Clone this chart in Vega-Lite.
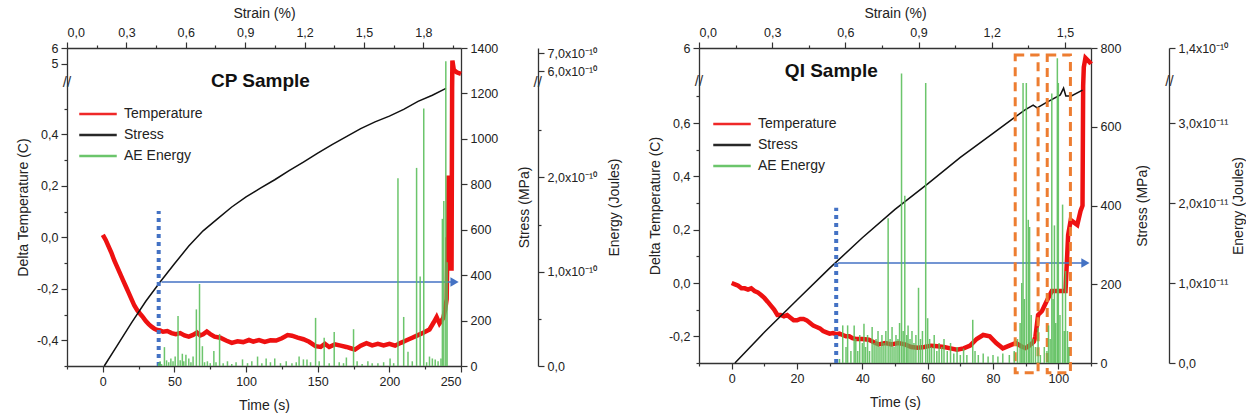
{
"$schema": "https://vega.github.io/schema/vega-lite/v6.json",
"padding": {"left": 16, "top": 6, "right": 0, "bottom": 0},
"spacing": 26,
"config": {
  "font": "Liberation Sans",
  "view": {"stroke": null},
  "axis": {"grid": false, "labelOverlap": false, "domainColor": "#333", "tickColor": "#333", "labelColor": "#222", "titleColor": "#222", "labelFontSize": 12.5, "titleFontSize": 14, "titleFontWeight": "normal", "labelFont": "Liberation Sans", "titleFont": "Liberation Sans", "domainWidth": 1.3, "tickWidth": 1.2, "labelPadding": 3, "titlePadding": 6}
},
"resolve": {"scale": {"color": "independent"}, "legend": {"color": "independent"}},
"datasets": {
  "cpTemp": [
    {"t":0,"v":0.01},{"t":2,"v":-0.01},{"t":4,"v":-0.035},{"t":6,"v":-0.06},{"t":8,"v":-0.09},{"t":10,"v":-0.115},{"t":12,"v":-0.14},{"t":14,"v":-0.165},{"t":16,"v":-0.19},{"t":18,"v":-0.215},{"t":20,"v":-0.24},{"t":22,"v":-0.265},{"t":24,"v":-0.283},{"t":26,"v":-0.297},{"t":28,"v":-0.31},{"t":30,"v":-0.325},{"t":32,"v":-0.337},{"t":34,"v":-0.347},{"t":36,"v":-0.355},{"t":38,"v":-0.36},{"t":40,"v":-0.362},{"t":42,"v":-0.367},{"t":45,"v":-0.364},{"t":48,"v":-0.372},{"t":51,"v":-0.376},{"t":54,"v":-0.372},{"t":57,"v":-0.381},{"t":60,"v":-0.386},{"t":63,"v":-0.379},{"t":65.7,"v":-0.37},{"t":68,"v":-0.381},{"t":70,"v":-0.377},{"t":72.6,"v":-0.366},{"t":75,"v":-0.376},{"t":78,"v":-0.386},{"t":82,"v":-0.39},{"t":86,"v":-0.401},{"t":90,"v":-0.41},{"t":94,"v":-0.404},{"t":98,"v":-0.407},{"t":102,"v":-0.399},{"t":105,"v":-0.405},{"t":109,"v":-0.399},{"t":113,"v":-0.406},{"t":117,"v":-0.4},{"t":121,"v":-0.401},{"t":125,"v":-0.392},{"t":129,"v":-0.38},{"t":132,"v":-0.382},{"t":136,"v":-0.39},{"t":140,"v":-0.396},{"t":144,"v":-0.406},{"t":148.5,"v":-0.423},{"t":152,"v":-0.426},{"t":155,"v":-0.414},{"t":158,"v":-0.426},{"t":162,"v":-0.416},{"t":166,"v":-0.421},{"t":170,"v":-0.426},{"t":173,"v":-0.431},{"t":176,"v":-0.436},{"t":180,"v":-0.421},{"t":184,"v":-0.411},{"t":188,"v":-0.42},{"t":192,"v":-0.414},{"t":196,"v":-0.42},{"t":200,"v":-0.414},{"t":204,"v":-0.421},{"t":208,"v":-0.41},{"t":212,"v":-0.4},{"t":216,"v":-0.39},{"t":220,"v":-0.38},{"t":224,"v":-0.37},{"t":228,"v":-0.358},{"t":231,"v":-0.33},{"t":233,"v":-0.31},{"t":235,"v":-0.335},{"t":237.5,"v":-0.315},{"t":239,"v":-0.28},{"t":240,"v":-0.24},{"t":240.6,"v":0.0},{"t":241,"v":-0.1},{"t":241.4,"v":0.24},{"t":241.8,"v":-0.12},{"t":242.2,"v":0.22},{"t":242.6,"v":-0.1},{"t":243,"v":0.2},{"t":243.4,"v":-0.13},{"t":243.8,"v":0.58},{"t":244,"v":5.2},{"t":245,"v":4.6},{"t":247,"v":4.45},{"t":250,"v":4.35}
  ],
  "cpStress": [
    {"t":1,"s":0},{"t":10,"s":90},{"t":20,"s":190},{"t":30,"s":285},{"t":40,"s":370},{"t":50,"s":450},{"t":60,"s":528},{"t":70,"s":595},{"t":80,"s":648},{"t":90,"s":700},{"t":100,"s":745},{"t":110,"s":783},{"t":120,"s":820},{"t":130,"s":860},{"t":140,"s":898},{"t":150,"s":937},{"t":160,"s":975},{"t":170,"s":1010},{"t":180,"s":1045},{"t":190,"s":1075},{"t":200,"s":1100},{"t":210,"s":1130},{"t":220,"s":1165},{"t":230,"s":1192},{"t":239.5,"s":1222}
  ],
  "cpAE": [
    {"t":39,"e":0.03e-10},{"t":40,"e":0.05e-10},{"t":41,"e":0.02e-10},{"t":43,"e":0.2e-10},{"t":44.5,"e":0.06e-10},{"t":46,"e":0.04e-10},{"t":47.5,"e":0.08e-10},{"t":49,"e":0.05e-10},{"t":50.5,"e":0.1e-10},{"t":52.5,"e":0.53e-10},{"t":54,"e":0.06e-10},{"t":55.5,"e":0.13e-10},{"t":56.5,"e":0.05e-10},{"t":58,"e":0.12e-10},{"t":60,"e":0.08e-10},{"t":61.5,"e":0.04e-10},{"t":63,"e":0.1e-10},{"t":65.3,"e":0.6e-10},{"t":67.5,"e":0.87e-10},{"t":69.5,"e":0.21e-10},{"t":71,"e":0.04e-10},{"t":73,"e":0.05e-10},{"t":75,"e":0.03e-10},{"t":77.5,"e":0.16e-10},{"t":79,"e":0.04e-10},{"t":81.5,"e":0.34e-10},{"t":84,"e":0.03e-10},{"t":87,"e":0.05e-10},{"t":90,"e":0.02e-10},{"t":93,"e":0.04e-10},{"t":97.5,"e":0.07e-10},{"t":101,"e":0.03e-10},{"t":104,"e":0.05e-10},{"t":108,"e":0.1e-10},{"t":111,"e":0.03e-10},{"t":114,"e":0.08e-10},{"t":117,"e":0.04e-10},{"t":120,"e":0.08e-10},{"t":124,"e":0.03e-10},{"t":128,"e":0.05e-10},{"t":132,"e":0.03e-10},{"t":135,"e":0.04e-10},{"t":137,"e":0.1e-10},{"t":140,"e":0.07e-10},{"t":142.5,"e":0.07e-10},{"t":145,"e":0.04e-10},{"t":148.5,"e":0.51e-10},{"t":151,"e":0.05e-10},{"t":154.5,"e":0.3e-10},{"t":158,"e":0.03e-10},{"t":161.5,"e":0.36e-10},{"t":165,"e":0.04e-10},{"t":168,"e":0.03e-10},{"t":170,"e":0.09e-10},{"t":175,"e":0.39e-10},{"t":177.5,"e":0.05e-10},{"t":181,"e":0.02e-10},{"t":185,"e":0.05e-10},{"t":188,"e":0.03e-10},{"t":192,"e":0.03e-10},{"t":196,"e":0.04e-10},{"t":200.5,"e":0.08e-10},{"t":203,"e":0.03e-10},{"t":206,"e":1.99e-10},{"t":210,"e":0.52e-10},{"t":213,"e":0.15e-10},{"t":216,"e":0.05e-10},{"t":219,"e":2.1e-10},{"t":221.5,"e":0.95e-10},{"t":224,"e":2.73e-10},{"t":226,"e":0.04e-10},{"t":228,"e":0.1e-10},{"t":230,"e":0.08e-10},{"t":232,"e":0.07e-10},{"t":234,"e":0.05e-10},{"t":236,"e":0.08e-10},{"t":237,"e":1.56e-10},{"t":238,"e":1.75e-10},{"t":239.4,"e":6.55e-10},{"t":240.3,"e":1.1e-10}
  ],
  "qiTemp": [
    {"t":0,"v":0.0},{"t":1,"v":-0.005},{"t":2,"v":-0.01},{"t":3,"v":-0.02},{"t":4,"v":-0.02},{"t":5,"v":-0.025},{"t":6,"v":-0.02},{"t":7,"v":-0.03},{"t":8,"v":-0.035},{"t":9,"v":-0.045},{"t":10,"v":-0.056},{"t":11,"v":-0.07},{"t":12,"v":-0.085},{"t":13,"v":-0.1},{"t":14,"v":-0.12},{"t":15,"v":-0.12},{"t":16,"v":-0.125},{"t":17,"v":-0.12},{"t":18,"v":-0.13},{"t":19,"v":-0.14},{"t":20,"v":-0.14},{"t":21,"v":-0.135},{"t":22,"v":-0.135},{"t":23,"v":-0.14},{"t":24,"v":-0.15},{"t":25,"v":-0.16},{"t":26,"v":-0.165},{"t":27,"v":-0.17},{"t":28,"v":-0.18},{"t":29,"v":-0.185},{"t":30,"v":-0.19},{"t":31,"v":-0.188},{"t":32,"v":-0.192},{"t":33,"v":-0.19},{"t":34,"v":-0.195},{"t":35,"v":-0.2},{"t":36,"v":-0.2},{"t":37,"v":-0.207},{"t":38,"v":-0.21},{"t":40,"v":-0.21},{"t":42,"v":-0.213},{"t":44,"v":-0.225},{"t":45,"v":-0.23},{"t":47,"v":-0.225},{"t":49,"v":-0.23},{"t":51,"v":-0.225},{"t":53,"v":-0.23},{"t":55,"v":-0.24},{"t":57,"v":-0.243},{"t":59,"v":-0.24},{"t":61,"v":-0.235},{"t":63,"v":-0.237},{"t":65,"v":-0.24},{"t":67,"v":-0.245},{"t":69,"v":-0.25},{"t":71,"v":-0.245},{"t":73,"v":-0.235},{"t":75,"v":-0.21},{"t":77,"v":-0.195},{"t":79,"v":-0.2},{"t":81,"v":-0.225},{"t":83,"v":-0.245},{"t":85,"v":-0.235},{"t":87,"v":-0.225},{"t":89,"v":-0.24},{"t":90,"v":-0.244},{"t":91,"v":-0.236},{"t":92.5,"v":-0.22},{"t":93,"v":-0.2},{"t":93.8,"v":-0.12},{"t":95,"v":-0.105},{"t":96.6,"v":-0.064},{"t":98,"v":-0.03},{"t":100,"v":-0.03},{"t":102.2,"v":-0.03},{"t":103,"v":0.18},{"t":103.8,"v":0.236},{"t":105.8,"v":0.218},{"t":106.8,"v":0.27},{"t":107.4,"v":0.29},{"t":107.6,"v":0.74},{"t":107.8,"v":5.4},{"t":108.3,"v":5.69},{"t":109.8,"v":5.53},{"t":110,"v":5.5}
  ],
  "qiStress": [
    {"t":1,"s":0},{"t":10,"s":78},{"t":20,"s":160},{"t":30,"s":241},{"t":40,"s":318},{"t":50,"s":390},{"t":60,"s":455},{"t":70,"s":522},{"t":80,"s":583},{"t":86,"s":620},{"t":89.8,"s":643},{"t":92.3,"s":655},{"t":93.5,"s":648},{"t":96,"s":660},{"t":100.6,"s":681},{"t":101.6,"s":698},{"t":102.3,"s":678},{"t":104,"s":678},{"t":107.4,"s":693}
  ],
  "qiAE": [
    {"t":33,"e":0.05e-11},{"t":34,"e":0.47e-11},{"t":35,"e":0.2e-11},{"t":35.5,"e":0.47e-11},{"t":36.5,"e":0.15e-11},{"t":37.5,"e":0.47e-11},{"t":38,"e":0.3e-11},{"t":38.6,"e":0.15e-11},{"t":39.2,"e":0.35e-11},{"t":40,"e":0.25e-11},{"t":40.5,"e":0.49e-11},{"t":41,"e":0.2e-11},{"t":41.6,"e":0.35e-11},{"t":42.2,"e":0.15e-11},{"t":43,"e":0.45e-11},{"t":43.6,"e":0.25e-11},{"t":44.2,"e":0.3e-11},{"t":44.8,"e":0.4e-11},{"t":45.4,"e":0.2e-11},{"t":46,"e":0.35e-11},{"t":46.6,"e":0.25e-11},{"t":47.2,"e":0.4e-11},{"t":47.9,"e":1.81e-11},{"t":48.5,"e":0.3e-11},{"t":49.1,"e":0.45e-11},{"t":49.7,"e":0.2e-11},{"t":50.3,"e":0.35e-11},{"t":50.9,"e":0.3e-11},{"t":51.4,"e":0.5e-11},{"t":52,"e":11e-11},{"t":52.5,"e":0.4e-11},{"t":53,"e":2.09e-11},{"t":53.6,"e":0.35e-11},{"t":54,"e":0.47e-11},{"t":54.6,"e":0.3e-11},{"t":55.2,"e":0.4e-11},{"t":55.8,"e":0.25e-11},{"t":56.4,"e":0.35e-11},{"t":57.2,"e":0.94e-11},{"t":57.8,"e":0.3e-11},{"t":58.4,"e":0.4e-11},{"t":59.4,"e":3.5e-11},{"t":60,"e":0.56e-11},{"t":60.6,"e":0.3e-11},{"t":61.2,"e":0.2e-11},{"t":62,"e":0.35e-11},{"t":62.8,"e":0.15e-11},{"t":63.5,"e":0.25e-11},{"t":64.3,"e":0.2e-11},{"t":65,"e":0.3e-11},{"t":66,"e":0.15e-11},{"t":67,"e":0.25e-11},{"t":68,"e":0.12e-11},{"t":69,"e":0.2e-11},{"t":70,"e":0.1e-11},{"t":71,"e":0.18e-11},{"t":72,"e":0.1e-11},{"t":73.8,"e":0.54e-11},{"t":74.5,"e":0.15e-11},{"t":75.5,"e":0.1e-11},{"t":77,"e":0.12e-11},{"t":78.5,"e":0.08e-11},{"t":80,"e":0.1e-11},{"t":81.5,"e":0.08e-11},{"t":83,"e":0.12e-11},{"t":85,"e":0.1e-11},{"t":86.5,"e":0.15e-11},{"t":87.5,"e":0.3e-11},{"t":88.3,"e":0.5e-11},{"t":88.8,"e":1.0e-11},{"t":89.2,"e":3.5e-11},{"t":89.6,"e":0.8e-11},{"t":90.2,"e":3.5e-11},{"t":90.8,"e":1.79e-11},{"t":91.2,"e":1.7e-11},{"t":91.7,"e":0.6e-11},{"t":92.3,"e":0.3e-11},{"t":93,"e":0.2e-11},{"t":93.8,"e":0.44e-11},{"t":94.5,"e":0.1e-11},{"t":95.7,"e":0.2e-11},{"t":96.5,"e":0.15e-11},{"t":97,"e":0.47e-11},{"t":97.5,"e":0.3e-11},{"t":98,"e":3.37e-11},{"t":98.4,"e":0.8e-11},{"t":98.8,"e":1.72e-11},{"t":99.2,"e":0.5e-11},{"t":99.7,"e":12.8e-11},{"t":100,"e":3.5e-11},{"t":100.5,"e":0.6e-11},{"t":101.3,"e":1.98e-11},{"t":101.8,"e":0.4e-11},{"t":102.2,"e":1.15e-11},{"t":102.8,"e":0.4e-11},{"t":103.2,"e":0.2e-11}
  ]
},
"hconcat": [
{
  "width": 394, "height": 318,
  "resolve": {"scale": {"x": "independent", "y": "independent"}},
  "layer": [
    {"data": {"name": "cpTemp"}, "mark": {"type": "line", "strokeWidth": 4.5},
     "encoding": {
       "x": {"field": "t", "type": "quantitative", "scale": {"domain": [-25, 250], "nice": false, "zero": false},
             "axis": {"orient": "bottom", "title": "Time (s)", "titlePadding": 11, "labelOverlap": false, "values": [-25,0,25,50,75,100,125,150,175,200,225,250], "labelExpr": "datum.value % 50 == 0 ? format(datum.value, 'd') : ''", "tickSize": {"condition": {"test": "datum.value % 50 == 0", "value": 6}, "value": 3}}},
       "y": {"field": "v", "type": "quantitative", "scale": {"domain": [-0.5, 0.6, 3.9, 6], "range": [318, 35, 33, 0], "nice": false, "zero": false},
             "axis": {"orient": "left", "title": "Delta Temperature (C)", "labelOverlap": false, "values": [-0.5,-0.4,-0.3,-0.2,-0.1,0,0.1,0.2,0.3,0.4,0.5,5,6], "labelExpr": "datum.value > 3 ? format(datum.value, 'd') : (abs(round(datum.value*10)) % 2 == 0 ? replace(replace(format(datum.value, '.1f'), '.', ','), '\u2212', '-') : '')", "tickSize": {"condition": {"test": "datum.value > 3 || abs(round(datum.value*10)) % 2 == 0", "value": 6}, "value": 3}}},
       "color": {"datum": "Temperature", "type": "nominal", "scale": {"domain": ["Temperature", "Stress", "AE Energy"], "range": ["#ee1111", "#111111", "#5cbf5c"]},
                 "legend": {"orient": "none", "legendX": 22, "legendY": 57, "title": null, "symbolType": "M-2.5,0L2.5,0", "symbolSize": 225, "symbolStrokeWidth": 2.5, "labelFontSize": 14, "labelOffset": 17, "rowPadding": 5, "labelColor": "#222", "labelFont": "Liberation Sans"}}
     }},
    {"layer": [
      {"data": {"name": "cpStress"}, "mark": {"type": "line", "strokeWidth": 1.5},
       "encoding": {
         "x": {"field": "t", "type": "quantitative", "scale": {"domain": [-25, 250], "nice": false, "zero": false}, "axis": null},
         "y": {"field": "s", "type": "quantitative", "scale": {"domain": [0, 1400], "nice": false},
               "axis": {"orient": "right", "title": "Stress (MPa)", "titleAngle": 270, "titleBaseline": "top", "titlePadding": 20, "labelOverlap": false, "values": [0,100,200,300,400,500,600,700,800,900,1000,1100,1200,1300,1400], "labelExpr": "datum.value % 200 == 0 ? format(datum.value, 'd') : ''", "tickSize": {"condition": {"test": "datum.value % 200 == 0", "value": 6}, "value": 3}}},
         "color": {"datum": "Stress", "type": "nominal"}
       }},
      {"data": {"values": [{"t": 39, "lo": 0, "hi": 682}]}, "mark": {"type": "rule", "color": "#4472C4", "strokeWidth": 4, "strokeDash": [4, 4]},
       "encoding": {"x": {"field": "t", "type": "quantitative"}, "y": {"field": "lo", "type": "quantitative"}, "y2": {"field": "hi"}}},
      {"data": {"values": [{"t": -25, "s": 1250, "m": "//"}]}, "mark": {"type": "text", "fontSize": 15, "color": "#333", "font": "Liberation Sans"},
       "encoding": {"x": {"field": "t", "type": "quantitative"}, "y": {"field": "s", "type": "quantitative"}, "text": {"field": "m"}}},
      {"data": {"values": [{"t1": 41, "t2": 247, "s": 370}]}, "mark": {"type": "rule", "color": "#4472C4", "strokeWidth": 1.5},
       "encoding": {"x": {"field": "t1", "type": "quantitative"}, "x2": {"field": "t2"}, "y": {"field": "s", "type": "quantitative"}}},
      {"data": {"values": [{"t": 245.5, "s": 370}]}, "mark": {"type": "point", "shape": "triangle-right", "filled": true, "color": "#4472C4", "size": 90, "opacity": 1},
       "encoding": {"x": {"field": "t", "type": "quantitative"}, "y": {"field": "s", "type": "quantitative"}}},
      {"data": {"values": [{"t": 110, "s": 1255, "label": "CP Sample"}]}, "mark": {"type": "text", "fontSize": 19, "fontWeight": "bold", "color": "#111", "font": "Liberation Sans"},
       "encoding": {"x": {"field": "t", "type": "quantitative"}, "y": {"field": "s", "type": "quantitative"}, "text": {"field": "label"}}}
    ]},
    {"layer": [
      {"data": {"name": "cpAE"}, "mark": {"type": "rule", "strokeWidth": 1.5, "opacity": 0.9},
       "encoding": {
         "x": {"field": "t", "type": "quantitative", "scale": {"domain": [-25, 250], "nice": false, "zero": false}, "axis": null},
         "y": {"field": "e", "type": "quantitative", "scale": {"domain": [0, 3.0e-10, 5.45e-10, 7.28e-10], "range": [318, 35, 33, 0], "nice": false, "zero": false},
               "axis": {"orient": "right", "offset": 77, "title": "Energy (Joules)", "titleAngle": 270, "titleBaseline": "top", "titlePadding": 11, "labelOverlap": false, "values": [0, 0.5e-10, 1e-10, 1.5e-10, 2e-10, 2.5e-10, 6e-10, 7e-10], "labelExpr": "datum.value == 0 ? '0,0' : abs(datum.value - 1e-10) < 1e-12 ? '1,0x10\u207b\u00b9\u2070' : abs(datum.value - 2e-10) < 1e-12 ? '2,0x10\u207b\u00b9\u2070' : abs(datum.value - 6e-10) < 1e-12 ? '6,0x10\u207b\u00b9\u2070' : abs(datum.value - 7e-10) < 1e-12 ? '7,0x10\u207b\u00b9\u2070' : ''", "tickSize": {"condition": {"test": "abs(datum.value/1e-10 - round(datum.value/1e-10)) < 0.01", "value": 6}, "value": 3}}},
         "y2": {"datum": 0},
         "color": {"datum": "AE Energy", "type": "nominal"}
       }},
      {"data": {"values": [{"t": 303.6, "e": 4.2e-10, "s": "//"}]}, "mark": {"type": "text", "fontSize": 15, "color": "#333", "font": "Liberation Sans"},
       "encoding": {"x": {"field": "t", "type": "quantitative"}, "y": {"field": "e", "type": "quantitative"}, "text": {"field": "s"}}}
    ]},
    {"data": {"values": [{"p": 0}, {"p": 1.99}]}, "mark": {"type": "point", "opacity": 0},
     "encoding": {"x": {"field": "p", "type": "quantitative", "scale": {"domain": [0, 1.99], "nice": false, "zero": false},
       "axis": {"orient": "top", "title": "Strain (%)", "labelOverlap": false, "values": [0,0.15,0.3,0.45,0.6,0.75,0.9,1.05,1.2,1.35,1.5,1.65,1.8,1.95], "labelExpr": "abs(datum.value/0.3 - round(datum.value/0.3)) < 0.01 ? replace(format(datum.value, '.1f'), '.', ',') : ''", "tickSize": {"condition": {"test": "abs(datum.value/0.3 - round(datum.value/0.3)) < 0.01", "value": 6}, "value": 3}}}}}
  ]
},
{
  "width": 392, "height": 315,
  "resolve": {"scale": {"x": "independent", "y": "independent"}},
  "layer": [
    {"data": {"name": "qiTemp"}, "mark": {"type": "line", "strokeWidth": 4.5},
     "encoding": {
       "x": {"field": "t", "type": "quantitative", "scale": {"domain": [-10, 110], "nice": false, "zero": false},
             "axis": {"orient": "bottom", "title": "Time (s)", "titlePadding": 11, "labelOverlap": false, "values": [-10,0,10,20,30,40,50,60,70,80,90,100,110], "labelExpr": "datum.value % 20 == 0 ? format(datum.value, 'd') : ''", "tickSize": {"condition": {"test": "datum.value % 20 == 0", "value": 6}, "value": 3}}},
       "y": {"field": "v", "type": "quantitative", "scale": {"domain": [-0.3, 0.75, 5, 6], "range": [315, 35, 32, 0], "nice": false, "zero": false},
             "axis": {"orient": "left", "title": "Delta Temperature (C)", "labelOverlap": false, "values": [-0.3,-0.2,-0.1,0,0.1,0.2,0.3,0.4,0.5,0.6,0.7,6], "labelExpr": "datum.value > 3 ? format(datum.value, 'd') : (abs(round(datum.value*10)) % 2 == 0 ? replace(replace(format(datum.value, '.1f'), '.', ','), '\u2212', '-') : '')", "tickSize": {"condition": {"test": "datum.value > 3 || abs(round(datum.value*10)) % 2 == 0", "value": 6}, "value": 3}}},
       "color": {"datum": "Temperature", "type": "nominal", "scale": {"domain": ["Temperature", "Stress", "AE Energy"], "range": ["#ee1111", "#111111", "#5cbf5c"]},
                 "legend": {"orient": "none", "legendX": 24, "legendY": 67, "title": null, "symbolType": "M-2.5,0L2.5,0", "symbolSize": 225, "symbolStrokeWidth": 2.5, "labelFontSize": 14, "labelOffset": 17, "rowPadding": 5, "labelColor": "#222", "labelFont": "Liberation Sans"}}
     }},
    {"layer": [
      {"data": {"name": "qiStress"}, "mark": {"type": "line", "strokeWidth": 1.5},
       "encoding": {
         "x": {"field": "t", "type": "quantitative", "scale": {"domain": [-10, 110], "nice": false, "zero": false}, "axis": null},
         "y": {"field": "s", "type": "quantitative", "scale": {"domain": [0, 800], "nice": false},
               "axis": {"orient": "right", "title": "Stress (MPa)", "titleAngle": 270, "titleBaseline": "top", "titlePadding": 15, "labelOverlap": false, "values": [0,50,100,150,200,250,300,350,400,450,500,550,600,650,700,750,800], "labelExpr": "datum.value % 100 == 0 ? format(datum.value, 'd') : ''", "tickSize": {"condition": {"test": "datum.value % 100 == 0", "value": 6}, "value": 3}}},
         "color": {"datum": "Stress", "type": "nominal"}
       }},
      {"data": {"values": [{"t": 32, "lo": 0, "hi": 394}]}, "mark": {"type": "rule", "color": "#4472C4", "strokeWidth": 4, "strokeDash": [4, 4]},
       "encoding": {"x": {"field": "t", "type": "quantitative"}, "y": {"field": "lo", "type": "quantitative"}, "y2": {"field": "hi"}}},
      {"data": {"values": [{"t": -10, "s": 716, "m": "//"}]}, "mark": {"type": "text", "fontSize": 15, "color": "#333", "font": "Liberation Sans"},
       "encoding": {"x": {"field": "t", "type": "quantitative"}, "y": {"field": "s", "type": "quantitative"}, "text": {"field": "m"}}},
      {"data": {"values": [{"t1": 32.5, "t2": 109, "s": 254}]}, "mark": {"type": "rule", "color": "#4472C4", "strokeWidth": 1.5},
       "encoding": {"x": {"field": "t1", "type": "quantitative"}, "x2": {"field": "t2"}, "y": {"field": "s", "type": "quantitative"}}},
      {"data": {"values": [{"t": 108.3, "s": 254}]}, "mark": {"type": "point", "shape": "triangle-right", "filled": true, "color": "#4472C4", "size": 90, "opacity": 1},
       "encoding": {"x": {"field": "t", "type": "quantitative"}, "y": {"field": "s", "type": "quantitative"}}},
      {"data": {"values": [{"t1": 86.8, "t2": 93.8, "s1": -25, "s2": 782}, {"t1": 96.6, "t2": 103.7, "s1": -25, "s2": 782}]}, "mark": {"type": "rect", "fillOpacity": 0, "stroke": "#ED7D31", "strokeWidth": 3, "strokeDash": [9, 6]},
       "encoding": {"x": {"field": "t1", "type": "quantitative"}, "x2": {"field": "t2"}, "y": {"field": "s1", "type": "quantitative"}, "y2": {"field": "s2"}}},
      {"data": {"values": [{"t": 30.5, "s": 742, "label": "QI Sample"}]}, "mark": {"type": "text", "fontSize": 19, "fontWeight": "bold", "color": "#111", "font": "Liberation Sans"},
       "encoding": {"x": {"field": "t", "type": "quantitative"}, "y": {"field": "s", "type": "quantitative"}, "text": {"field": "label"}}}
    ]},
    {"layer": [
      {"data": {"name": "qiAE"}, "mark": {"type": "rule", "strokeWidth": 1.5, "opacity": 0.9},
       "encoding": {
         "x": {"field": "t", "type": "quantitative", "scale": {"domain": [-10, 110], "nice": false, "zero": false}, "axis": null},
         "y": {"field": "e", "type": "quantitative", "scale": {"domain": [0, 3.5e-11, 1.024e-10, 1.4e-10], "range": [315, 35, 32, 0], "nice": false, "zero": false},
               "axis": {"orient": "right", "offset": 78, "title": "Energy (Joules)", "titleAngle": 270, "titleBaseline": "top", "titlePadding": 4, "labelOverlap": false, "values": [0, 0.5e-11, 1e-11, 1.5e-11, 2e-11, 2.5e-11, 3e-11, 1.2e-10, 1.4e-10], "labelExpr": "datum.value == 0 ? '0,0' : abs(datum.value - 1e-11) < 1e-13 ? '1,0x10\u207b\u00b9\u00b9' : abs(datum.value - 2e-11) < 1e-13 ? '2,0x10\u207b\u00b9\u00b9' : abs(datum.value - 3e-11) < 1e-13 ? '3,0x10\u207b\u00b9\u00b9' : abs(datum.value - 1.2e-10) < 1e-13 ? '1,2x10\u207b\u00b9\u2070' : abs(datum.value - 1.4e-10) < 1e-13 ? '1,4x10\u207b\u00b9\u2070' : ''", "tickSize": {"condition": {"test": "abs(datum.value/1e-11 - round(datum.value/1e-11)) < 0.01", "value": 6}, "value": 3}}},
         "y2": {"datum": 0},
         "color": {"datum": "AE Energy", "type": "nominal"}
       }},
      {"data": {"values": [{"t": 134, "e": 7e-11, "s": "//"}]}, "mark": {"type": "text", "fontSize": 15, "color": "#333", "font": "Liberation Sans"},
       "encoding": {"x": {"field": "t", "type": "quantitative"}, "y": {"field": "e", "type": "quantitative"}, "text": {"field": "s"}}}
    ]},
    {"data": {"values": [{"p": 0}, {"p": 1.607}]}, "mark": {"type": "point", "opacity": 0},
     "encoding": {"x": {"field": "p", "type": "quantitative", "scale": {"domain": [0, 1.607], "nice": false, "zero": false},
       "axis": {"orient": "top", "title": "Strain (%)", "labelOverlap": false, "values": [0,0.15,0.3,0.45,0.6,0.75,0.9,1.05,1.2,1.35,1.5], "labelExpr": "abs(datum.value/0.3 - round(datum.value/0.3)) < 0.01 ? replace(format(datum.value, '.1f'), '.', ',') : ''", "tickSize": {"condition": {"test": "abs(datum.value/0.3 - round(datum.value/0.3)) < 0.01", "value": 6}, "value": 3}}}}}
  ]
}
]
}
